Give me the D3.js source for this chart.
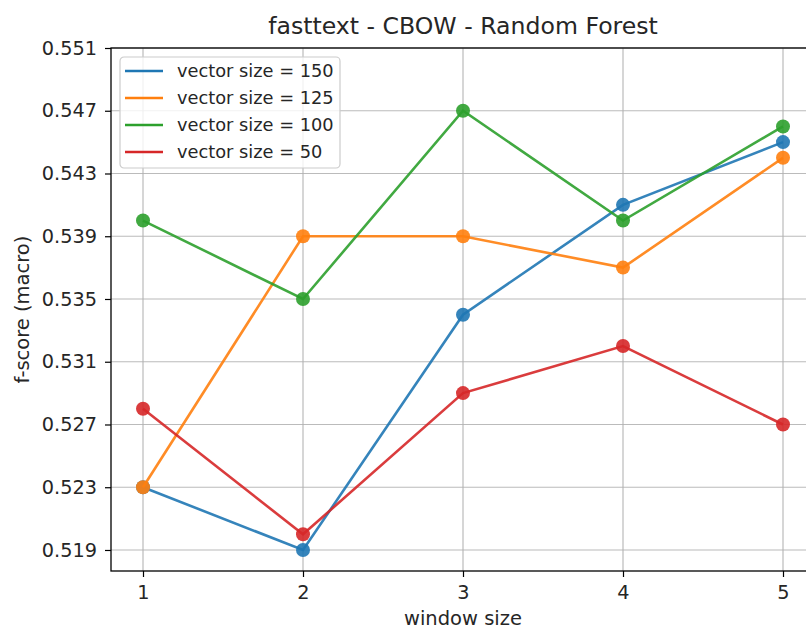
<!DOCTYPE html>
<html>
<head>
<meta charset="utf-8">
<script src="https://cdn.jsdelivr.net/npm/d3@7"></script>
<style>
  body { margin: 0; background: #fff; }
  svg { display: block; font-family: "DejaVu Sans", sans-serif; }
</style>
</head>
<body>
<svg id="chart" width="806" height="631"></svg>
<script>
// window sizes on the x axis
var windowSizes = [1, 2, 3, 4, 5];
var seriesNames = ["vector size = 150", "vector size = 125", "vector size = 100", "vector size = 50"];
var vs150 = [0.523, 0.519, 0.534, 0.541, 0.545];
var vs125 = [0.523, 0.539, 0.539, 0.537, 0.544];
var vs100 = [0.540, 0.535, 0.547, 0.540, 0.546];
var vs50  = [0.528, 0.520, 0.529, 0.532, 0.527];
var yTicks = [0.519, 0.523, 0.527, 0.531, 0.535, 0.539, 0.543, 0.547, 0.551];
var colors = ["#1f77b4", "#ff7f0e", "#2ca02c", "#d62728"];

var allSeries = [vs150, vs125, vs100, vs50];

var marge = { top: 48, left: 111 };
var svg = d3.select("#chart");
var plotH = 523;

var x = d3.scaleLinear().domain([0.8, 5.2]).range([marge.left, 815]);
var y = d3.scaleLinear().domain([0.51766, 0.551]).range([marge.top + plotH, marge.top]);

// grid
var grid = svg.append("g");
grid.selectAll("line.vx").data(windowSizes).enter().append("line")
    .attr("x1", function (d) { return x(d); }).attr("x2", function (d) { return x(d); })
    .attr("y1", marge.top).attr("y2", marge.top + plotH)
    .style("stroke", "#b0b0b0").style("stroke-width", 1.2).style("opacity", 0.85);
grid.selectAll("line.hy").data(yTicks).enter().append("line")
    .attr("x1", marge.left).attr("x2", 815)
    .attr("y1", function (d) { return y(d); }).attr("y2", function (d) { return y(d); })
    .style("stroke", "#b0b0b0").style("stroke-width", 1.2).style("opacity", 0.85);

// axes
var xAxis = d3.axisBottom(x).tickValues(windowSizes).tickFormat(d3.format("d")).tickSize(6).tickPadding(8);
var yAxis = d3.axisLeft(y).tickValues(yTicks).tickFormat(d3.format(".3f")).tickSize(6).tickPadding(8);

var gx = svg.append("g").attr("transform", "translate(0," + (marge.top + plotH) + ")").call(xAxis);
var gy = svg.append("g").attr("transform", "translate(" + marge.left + ",0)").call(yAxis);
[gx, gy].forEach(function (g) {
    g.select(".domain").remove();
    g.selectAll(".tick line").style("stroke", "#000").style("stroke-width", 1.2);
    g.selectAll(".tick text").style("font-family", "DejaVu Sans").style("font-size", "19.3px").style("fill", "#262626");
});

// spines
svg.append("rect")
    .attr("x", marge.left).attr("y", marge.top)
    .attr("width", 815 - marge.left).attr("height", plotH)
    .style("fill", "none").style("stroke", "#000").style("stroke-width", 1.3);

// lines + markers
var line = d3.line()
    .x(function (d, i) { return x(windowSizes[i]); })
    .y(function (d) { return y(d); });

allSeries.forEach(function (s, k) {
    var g = svg.append("g");
    g.append("path")
        .datum(s)
        .attr("d", line)
        .style("fill", "none")
        .style("stroke", colors[k])
        .style("stroke-width", 2.6)
        .style("opacity", 0.9);
    g.selectAll("circle").data(s).enter().append("circle")
        .attr("cx", function (d, i) { return x(windowSizes[i]); })
        .attr("cy", function (d) { return y(d); })
        .attr("r", 7)
        .style("fill", colors[k])
        .style("opacity", 0.9);
});

// legend
var leg = svg.append("g").attr("transform", "translate(120,57)");
leg.append("rect")
    .attr("width", 220).attr("height", 111).attr("rx", 4)
    .style("fill", "#fff").style("fill-opacity", 0.8)
    .style("stroke", "#ccc").style("stroke-width", 1.2);
seriesNames.forEach(function (name, i) {
    var yy = 14 + i * 27;
    leg.append("line").attr("x1", 5).attr("x2", 43).attr("y1", yy).attr("y2", yy)
        .style("stroke", colors[i]).style("stroke-width", 2.6);
    leg.append("text").attr("x", 57).attr("y", yy).attr("dy", "0.35em")
        .style("font-size", "17.8px").style("fill", "#262626")
        .text(name);
});

// title & labels
svg.append("text").attr("x", 463).attr("y", 34).attr("text-anchor", "middle")
    .style("font-size", "23.6px").style("fill", "#262626")
    .text("fasttext - CBOW - Random Forest");
svg.append("text").attr("x", 463).attr("y", 625).attr("text-anchor", "middle")
    .style("font-size", "19.5px").style("fill", "#262626")
    .text("window size");
svg.append("text").attr("transform", "translate(29," + (marge.top + plotH / 2) + ") rotate(-90)")
    .attr("text-anchor", "middle")
    .style("font-size", "19.5px").style("fill", "#262626")
    .text("f-score (macro)");
</script>
</body>
</html>
